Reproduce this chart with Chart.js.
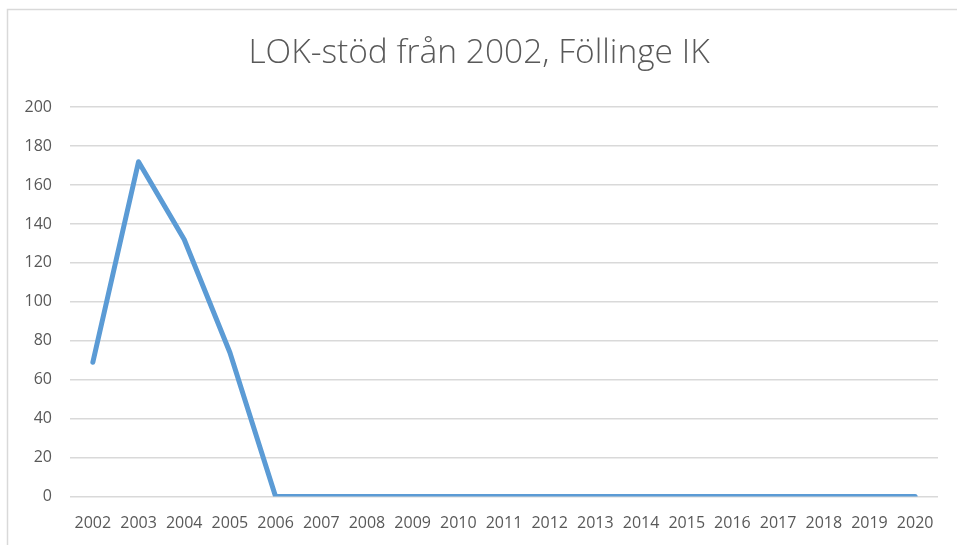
<!DOCTYPE html>
<html>
<head>
<meta charset="utf-8">
<script src="https://cdn.jsdelivr.net/npm/chart.js@4"></script>
<style>
  html, body { margin: 0; padding: 0; background: #ffffff; }
  #wrap { width: 957px; height: 545px; position: relative; }
</style>
</head>
<body>
<div id="wrap"><canvas id="c" width="957" height="545"></canvas></div>
<script>
const years = ["2002","2003","2004","2005","2006","2007","2008","2009","2010","2011","2012","2013","2014","2015","2016","2017","2018","2019","2020"];
const lokStod = [69, 172, 132, 74, 0, 0, 0, 0, 0, 0, 0, 0, 0, 0, 0, 0, 0, 0, 0];
const yTicks = [0, 20, 40, 60, 80, 100, 120, 140, 160, 180, 200];
const chartTitle = "LOK-stöd från 2002, Föllinge IK";

const frame = {
  id: 'frame',
  beforeDraw(chart) {
    const ctx = chart.ctx;
    ctx.save();
    ctx.fillStyle = '#ffffff';
    ctx.fillRect(0, 0, chart.width, chart.height);
    ctx.strokeStyle = '#d9d9d9';
    ctx.lineWidth = 1.5;
    ctx.beginPath();
    ctx.moveTo(7.5, chart.height);
    ctx.lineTo(7.5, 9.5);
    ctx.lineTo(chart.width, 9.5);
    ctx.stroke();
    ctx.restore();
  }
};

new Chart(document.getElementById('c'), {
  type: 'line',
  data: {
    labels: years,
    datasets: [{
      data: lokStod,
      borderColor: '#5B9BD5',
      backgroundColor: '#5B9BD5',
      borderWidth: 5,
      pointRadius: 0,
      tension: 0,
      borderCapStyle: 'round',
      borderJoinStyle: 'round',
      fill: false
    }]
  },
  options: {
    responsive: false,
    animation: false,
    layout: { padding: { left: 20, right: 19, top: 0, bottom: 0 } },
    plugins: {
      legend: { display: false },
      tooltip: { enabled: false },
      title: {
        display: true,
        text: chartTitle,
        color: '#595959',
        font: { family: 'Open Sans', size: 33.5, weight: '300', lineHeight: 1.2 },
        padding: { top: 33, bottom: 34 }
      }
    },
    scales: {
      x: {
        offset: true,
        grid: { display: false },
        border: { display: false },
        ticks: {
          color: '#595959',
          font: { family: 'Open Sans', size: 16 },
          padding: 9,
          maxRotation: 0,
          autoSkip: false
        },
        afterFit(scale) { scale.height = 48.5; }
      },
      y: {
        min: 0,
        max: 200,
        afterBuildTicks(scale) { scale.ticks = yTicks.map(v => ({ value: v })); },
        grid: { color: '#d9d9d9', lineWidth: 1.5, drawTicks: false },
        border: { display: false },
        ticks: {
          color: '#595959',
          font: { family: 'Open Sans', size: 16 },
          padding: 18
        },
        afterFit(scale) { scale.width = 50; }
      }
    }
  },
  plugins: [frame]
});
</script>
</body>
</html>
